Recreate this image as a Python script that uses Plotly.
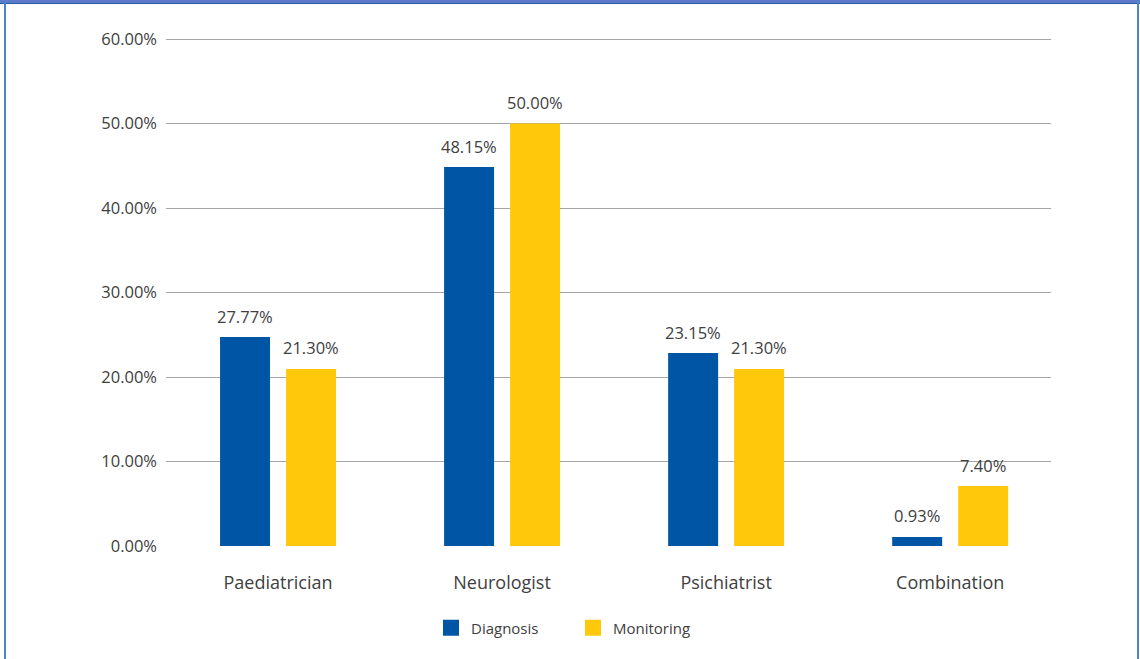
import plotly.graph_objects as go

categories = ["Paediatrician", "Neurologist", "Psichiatrist", "Combination"]
series_names = ["Diagnosis", "Monitoring"]
# bar heights as drawn in the picture (percent)
diagnosis_heights = [24.73, 44.85, 22.84, 1.07]
monitoring_heights = [20.95, 50.0, 20.95, 7.1]
# data labels as printed
diagnosis_labels = ["27.77%", "48.15%", "23.15%", "0.93%"]
monitoring_labels = ["21.30%", "50.00%", "21.30%", "7.40%"]
y_ticks = [0, 10, 20, 30, 40, 50, 60]

BLUE = "#0055a5"
YELLOW = "#ffc80a"
TEXT = "#404040"
FONT = "Open Sans"

W, H = 1140, 659
L, R, T, B = 166, 89, 36, 113
pw, ph = W - L - R, H - T - B
Y_MAX = 60 * ph / 507.0  # keeps 60% gridline at y=39 px with a little headroom

def px_x(p):
    return (p - L) / pw

def px_y(p):
    return (H - B - p) / ph

fig = go.Figure()
fig.add_trace(go.Bar(x=categories, y=diagnosis_heights, name=series_names[0],
                     marker=dict(color=BLUE, line=dict(width=0)), showlegend=False))
fig.add_trace(go.Bar(x=categories, y=monitoring_heights, name=series_names[1],
                     marker=dict(color=YELLOW, line=dict(width=0)), showlegend=False))

# legend proxies (larger square swatches)
for nm, col in zip(series_names, [BLUE, YELLOW]):
    fig.add_trace(go.Scatter(x=[None], y=[None], mode="markers", name=nm,
                             marker=dict(symbol="square", size=24, color=col)))

annotations = []
for i, c in enumerate(categories):
    for vals, labs, shift in ((diagnosis_heights, diagnosis_labels, -33),
                              (monitoring_heights, monitoring_labels, 33)):
        annotations.append(dict(x=c, y=vals[i], text=labs[i], showarrow=False,
                                xref="x", yref="y", xshift=shift, yshift=21,
                                yanchor="middle", xanchor="center",
                                font=dict(family=FONT, size=16.5, color=TEXT)))

shapes = [
    dict(type="line", xref="paper", yref="paper", x0=px_x(0), x1=px_x(W), y0=px_y(1.5), y1=px_y(1.5),
         line=dict(color="#5d7bc9", width=3), layer="above"),
    dict(type="line", xref="paper", yref="paper", x0=px_x(0), x1=px_x(W), y0=px_y(3.5), y1=px_y(3.5),
         line=dict(color="#2e5aa8", width=1), layer="above"),
    dict(type="line", xref="paper", yref="paper", x0=px_x(5), x1=px_x(5), y0=px_y(0), y1=px_y(H + 5),
         line=dict(color="#4a86c8", width=2), layer="above"),
    dict(type="line", xref="paper", yref="paper", x0=px_x(1138), x1=px_x(1138), y0=px_y(0), y1=px_y(H + 5),
         line=dict(color="#4a86c8", width=2), layer="above"),
]

fig.update_layout(
    width=W, height=H,
    margin=dict(l=L, r=R, t=T, b=B, autoexpand=False),
    paper_bgcolor="white", plot_bgcolor="white",
    barmode="group", bargap=0.411, bargroupgap=0.2424,
    font=dict(family=FONT, color=TEXT),
    xaxis=dict(type="category", range=[-0.5, 3.45], showgrid=False, zeroline=False,
               showline=False, ticks="", tickfont=dict(family=FONT, size=18, color=TEXT),
               ticklabelstandoff=24, fixedrange=True),
    yaxis=dict(range=[0, Y_MAX], tickvals=y_ticks, ticktext=[f"{v:.2f}%" for v in y_ticks],
               showgrid=True, gridcolor="#a6a6a6", gridwidth=1, zeroline=False,
               showline=False, ticks="", tickfont=dict(family=FONT, size=16.5, color=TEXT),
               ticklabelstandoff=8, fixedrange=True),
    legend=dict(orientation="h", x=px_x(431), xanchor="left", y=px_y(628), yanchor="middle",
                font=dict(family=FONT, size=15, color=TEXT), entrywidth=97,
                itemsizing="trace", bgcolor="rgba(0,0,0,0)", tracegroupgap=0),
    annotations=annotations,
    shapes=shapes,
    showlegend=True,
)

fig.write_html("out.html")
